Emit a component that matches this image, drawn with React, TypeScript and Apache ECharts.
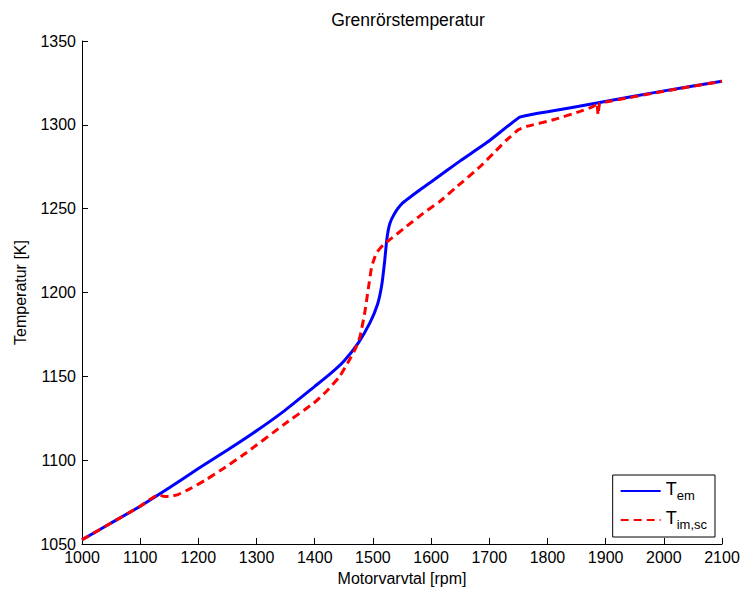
import React, { useEffect, useRef } from "react";
import * as echarts from "echarts";

const emRpm = [1000, 1050, 1100, 1150, 1200, 1250, 1300, 1350, 1400, 1425, 1450, 1475, 1495, 1508, 1515, 1520, 1524, 1529, 1537, 1550, 1580, 1604, 1650, 1700, 1752, 1770, 1800, 1885, 1993, 2100];
const emT = [1052.5, 1062.5, 1072.5, 1083.5, 1095, 1106, 1117.5, 1130, 1144, 1151, 1159, 1170, 1182, 1193, 1204, 1218, 1232, 1241, 1247, 1253, 1261, 1267, 1278.5, 1290.5, 1304.5, 1306, 1307.8, 1313, 1319.8, 1326];

const scRpm = [1000, 1050, 1100, 1131, 1140, 1150, 1165, 1186, 1214, 1243, 1283, 1346, 1398, 1420, 1443, 1460, 1470, 1478, 1486, 1492, 1498, 1506, 1518, 1529, 1558, 1587, 1615, 1644, 1684, 1707, 1730, 1750, 1764, 1810, 1856, 1879, 1885, 1887, 1888, 1890, 1900, 2000, 2100];
const scT = [1052.5, 1062.5, 1072.5, 1079.3, 1078.5, 1078.3, 1079.5, 1083, 1088.5, 1095, 1104.6, 1121, 1134, 1141, 1150, 1160, 1166.5, 1174, 1188, 1202, 1215.5, 1223.5, 1228.5, 1231.5, 1239.5, 1247.4, 1254.3, 1263, 1275, 1283, 1291, 1297, 1299, 1303, 1308, 1311, 1313, 1306, 1306, 1313, 1313.6, 1320, 1326];

const xTicks = { min: 1000, max: 2100, step: 100 };
const yTicks = { min: 1050, max: 1350, step: 50 };

const FONT = "'Liberation Sans', Arial, Helvetica, sans-serif";

export default function App() {
  const ref = useRef<HTMLDivElement>(null);
  useEffect(() => {
    if (!ref.current) return;
    const chart = echarts.init(ref.current, null, { renderer: "svg" });
    const axisCommon = {
      axisLine: { show: true, lineStyle: { color: "#000", width: 1 } },
      axisTick: { show: true, inside: true, length: 6, lineStyle: { color: "#000" } },
      splitLine: { show: false },
      nameTextStyle: { color: "#000", fontSize: 16, fontFamily: FONT },
    };
    const label = { color: "#000", fontSize: 16, fontFamily: FONT, margin: 5, formatter: (v: number) => String(v) };
    chart.setOption({
      animation: false,
      backgroundColor: "#fff",
      title: {
        text: "Grenrörstemperatur",
        left: 403,
        top: 6,
        textAlign: "center",
        textStyle: { fontSize: 17.5, fontWeight: "normal", color: "#000", fontFamily: FONT },
      },
      grid: { left: 82, right: 23, top: 41, bottom: 46, containLabel: false },
      xAxis: {
        type: "value",
        min: xTicks.min,
        max: xTicks.max,
        interval: xTicks.step,
        name: "Motorvarvtal [rpm]",
        nameLocation: "middle",
        nameGap: 26,
        ...axisCommon,
        axisLabel: { ...label, margin: 5 },
      },
      yAxis: {
        type: "value",
        min: yTicks.min,
        max: yTicks.max,
        interval: yTicks.step,
        name: "Temperatur [K]",
        nameLocation: "middle",
        nameGap: 54,
        ...axisCommon,
        axisLabel: { ...label, margin: 6 },
      },
      legend: {
        orient: "vertical",
        right: 30,
        bottom: 54,
        backgroundColor: "#fff",
        borderColor: "#000",
        borderWidth: 1,
        borderRadius: 0,
        padding: [4, 8, 6, 7],
        itemGap: 6,
        itemWidth: 40,
        itemHeight: 14,
        itemStyle: { opacity: 0 },
        data: ["Tem", "Timsc"],
        formatter: (name: string) => (name === "Tem" ? "{a|T}{b|em}" : "{a|T}{b|im,sc}"),
        textStyle: {
          color: "#000",
          fontFamily: FONT,
          rich: {
            a: { fontSize: 18, fontFamily: FONT, color: "#000", verticalAlign: "top", lineHeight: 22 },
            b: { fontSize: 13, fontFamily: FONT, color: "#000", verticalAlign: "bottom", padding: [10, 0, 0, 0], lineHeight: 22 },
          },
        },
      },
      series: [
        {
          name: "Tem",
          type: "line",
          data: emRpm.map((r, i) => [r, emT[i]]),
          symbol: "none",
          smooth: 0.15,
          lineStyle: { color: "#0000ff", width: 3 },
          itemStyle: { color: "#0000ff" },
          z: 2,
        },
        {
          name: "Timsc",
          type: "line",
          data: scRpm.map((r, i) => [r, scT[i]]),
          symbol: "none",
          smooth: 0.15,
          lineStyle: { color: "#ff0000", width: 3, type: [8, 5] },
          itemStyle: { color: "#ff0000" },
          z: 3,
        },
      ],
    });
    return () => chart.dispose();
  }, []);
  return <div ref={ref} style={{ width: 745, height: 591, position: "absolute", left: 0, top: 0 }} />;
}
